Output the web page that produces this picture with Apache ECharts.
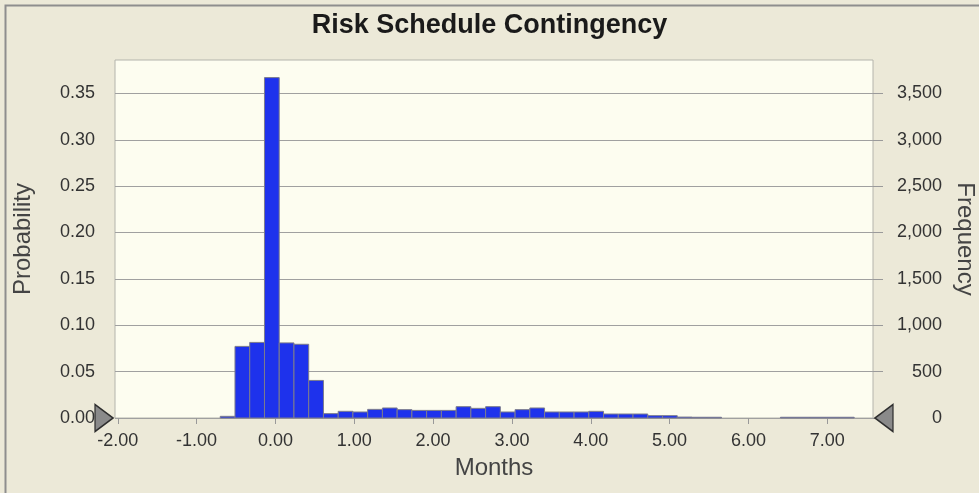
<!DOCTYPE html>
<html>
<head>
<meta charset="utf-8">
<script src="https://cdn.jsdelivr.net/npm/echarts@6/dist/echarts.min.js"></script>
<style>
  html, body { margin: 0; padding: 0; background: #ece9d8; }
  #chart { width: 979px; height: 493px; }
</style>
</head>
<body>
<div id="chart"></div>
<script>
// Histogram bins (months), probability per bin
const binStart = -0.70;
const binWidth = 0.187;
const probabilities = [
  0.0018, 0.0772, 0.0815, 0.367, 0.081, 0.0795, 0.0405, 0.0047,
  0.0072, 0.0065, 0.0093, 0.0108, 0.009, 0.0082, 0.0082, 0.0082,
  0.0122, 0.0104, 0.0122, 0.0065, 0.009, 0.0108, 0.0065, 0.0065,
  0.0065, 0.0072, 0.0043, 0.0043, 0.0043, 0.0025, 0.0025, 0.001,
  0.0008, 0.0008, 0, 0, 0, 0, 0.0008, 0.0008,
  0.0008, 0.0008, 0.0008
];
const trials = 10000;

const xMin = -2.035;
const xMax = 7.58;
const xTicks = [-2, -1, 0, 1, 2, 3, 4, 5, 6, 7];
const probTicks = [0, 0.05, 0.1, 0.15, 0.2, 0.25, 0.3, 0.35];
const freqTicks = [0, 500, 1000, 1500, 2000, 2500, 3000, 3500];
const probMax = 0.386;

const font = "Liberation Sans";

const binData = probabilities.map(function (p, i) {
  const x0 = binStart + i * binWidth;
  return [x0, x0 + binWidth, p];
});

const chart = echarts.init(document.getElementById("chart"));

const option = {
  animation: false,
  backgroundColor: "#ece9d8",
  textStyle: { fontFamily: font },
  title: {
    text: "Risk Schedule Contingency",
    left: "center",
    top: 7,
    textStyle: {
      fontFamily: font,
      fontSize: 27,
      fontWeight: "bold",
      color: "#1a1a1a",
    },
  },
  graphic: [
    {
      type: "rect",
      left: 3,
      top: 3,
      shape: { width: 1200, height: 1200 },
      style: { fill: "none", stroke: "#8e8e8e", lineWidth: 2 },
      silent: true,
      z: -1,
    },
  ],
  grid: {
    left: 115,
    right: 106,
    top: 60,
    bottom: 75,
    outerBoundsMode: "none",
    show: true,
    backgroundColor: "#fdfdf0",
    borderColor: "#b4b4ac",
    borderWidth: 1,
  },
  xAxis: {
    type: "value",
    min: xMin,
    max: xMax,
    name: "Months",
    nameLocation: "middle",
    nameGap: 38,
    nameTextStyle: { fontFamily: font, fontSize: 24, color: "#444" },
    axisLine: { show: false },
    splitLine: { show: false },
    axisTick: {
      show: true,
      customValues: xTicks,
      length: 6,
      lineStyle: { color: "#999" },
    },
    axisLabel: {
      customValues: xTicks,
      margin: 14,
      fontSize: 18,
      color: "#333",
      formatter: function (v) {
        return v.toFixed(2);
      },
    },
  },
  yAxis: [
    {
      type: "value",
      min: 0,
      max: probMax,
      position: "left",
      name: "Probability",
      nameLocation: "middle",
      nameGap: 80,
      nameRotate: 90,
      nameTextStyle: { fontFamily: font, fontSize: 24, color: "#444" },
      axisLine: { show: false },
      axisTick: {
        show: true,
        customValues: probTicks,
        length: 12,
        lineStyle: { color: "#9a9a9a" },
      },
      axisLabel: {
        customValues: probTicks,
        margin: 20,
        fontSize: 18,
        color: "#333",
        formatter: function (v) {
          return v.toFixed(2);
        },
      },
      splitLine: {
        show: true,
        lineStyle: { color: "#a0a0a0", width: 1.2 },
      },
    },
    {
      type: "value",
      min: 0,
      max: probMax * trials,
      position: "right",
      name: "Frequency",
      nameLocation: "middle",
      nameGap: 78,
      nameRotate: -90,
      nameTextStyle: { fontFamily: font, fontSize: 24, color: "#444" },
      axisLine: { show: false },
      splitLine: { show: false },
      axisTick: {
        show: true,
        customValues: freqTicks,
        length: 10,
        lineStyle: { color: "#9a9a9a" },
      },
      axisLabel: {
        customValues: freqTicks,
        margin: 69,
        align: "right",
        fontSize: 18,
        color: "#333",
        formatter: function (v) {
          return String(v).replace(/\B(?=(\d{3})+(?!\d))/g, ",");
        },
      },
    },
  ],
  series: [
    {
      name: "Probability",
      type: "custom",
      xAxisIndex: 0,
      yAxisIndex: 0,
      data: binData,
      encode: { x: [0, 1], y: 2 },
      renderItem: function (params, api) {
        const y = api.value(2);
        if (!y) return null;
        const p0 = api.coord([api.value(0), 0]);
        const p1 = api.coord([api.value(1), y]);
        return {
          type: "rect",
          shape: {
            x: p0[0],
            y: p1[1],
            width: p1[0] - p0[0],
            height: p0[1] - p1[1],
          },
          style: {
            fill: "#1e32ec",
            stroke: "#7c7c8c",
            lineWidth: 1,
          },
        };
      },
      markPoint: {
        silent: true,
        label: { show: false },
        data: [
          {
            coord: [xMin, 0],
            symbol: "path://M0,0 L18,13.5 L0,27 Z",
            symbolSize: [18, 27],
            symbolOffset: [-11, 0],
            itemStyle: { color: "#8a8a8a", borderColor: "#2e2e2e", borderWidth: 1.5 },
          },
          {
            coord: [xMax, 0],
            symbol: "path://M18,0 L0,13.5 L18,27 Z",
            symbolSize: [18, 27],
            symbolOffset: [11, 0],
            itemStyle: { color: "#8a8a8a", borderColor: "#2e2e2e", borderWidth: 1.5 },
          },
        ],
      },
    },
  ],
};

chart.setOption(option);

window.addEventListener("resize", function () {
  chart.resize();
});
</script>
</body>
</html>
